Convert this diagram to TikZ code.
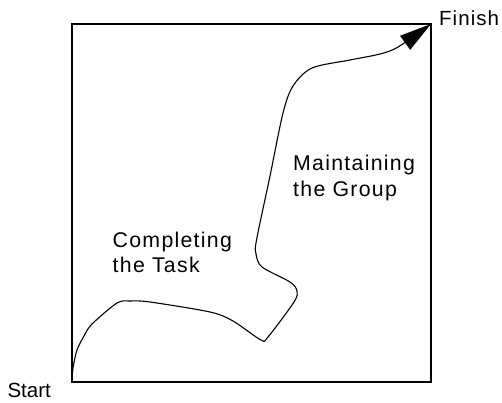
\documentclass[tikz,border=0pt]{standalone}
\usepackage{fontspec}
\setmainfont{Liberation Sans}
\usetikzlibrary{arrows.meta,positioning}
\tikzset{
  framebox/.style={draw, line width=1.6pt},
  pathline/.style={draw, line width=1.1pt, -{Triangle[length=32pt,width=17pt]}},
  cornerlabel/.style={inner sep=0pt, font=\fontsize{20.5}{24}\selectfont},
  phaselabel/.style={inner sep=0pt, align=left,
    font=\addfontfeatures{LetterSpace=6}\fontsize{21.3}{25.5}\selectfont}
}
\begin{document}
\begin{tikzpicture}[x=1pt, y=-1pt]
    \useasboundingbox (0,0) rectangle (502,402);
    \coordinate (sw) at (72,382);
    \coordinate (ne) at (431,24);
    \draw[framebox] (sw) rectangle (ne);

    \node[cornerlabel, anchor=base east] (start) at (51,397) {Start};
    \node[cornerlabel, anchor=base west] (finish) at (439,25) {\addfontfeatures{LetterSpace=5}Finish};

    \node[phaselabel, anchor=north west] (task) at (112.5,231.5) {Completing\\the Task};
    \node[phaselabel, anchor=north west] (group) at (293,155) {Maintaining\\the Group};

    % path from start to finish
    \draw[pathline] plot[smooth, tension=0.5] coordinates {
      (sw) (73,368) (77,350) (84,336) (92,324) (117,303) (130,301) (150,302)
      (210,312) (233,321) (261,340) (268,337) (294,302) (297,291) (290,282)
      (262,267) (256,254) (256.5,240) (270,176) (283,113) (293,86) (312,68)
      (350,60) (380,54) (398,47) (ne)};
\end{tikzpicture}
\end{document}
